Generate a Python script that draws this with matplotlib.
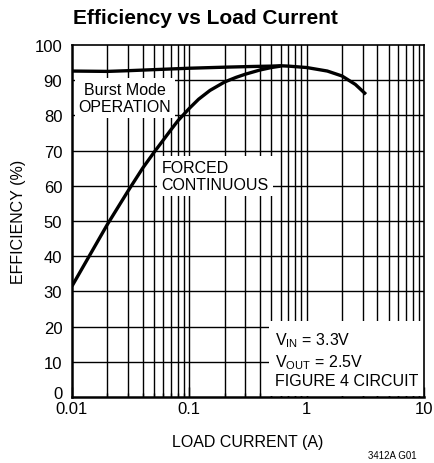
import numpy as np
import matplotlib
matplotlib.use("Agg")
import matplotlib.pyplot as plt
import matplotlib.transforms as mtransforms
from matplotlib.ticker import LogLocator, NullFormatter, FixedLocator

# data
burst_current = [0.01, 0.02, 0.03, 0.05, 0.1, 0.2, 0.35, 0.5, 0.6, 0.7, 1.0, 1.5, 2.0, 2.6, 3.2]
burst_eff = [92.6, 92.5, 92.7, 93.0, 93.4, 93.7, 93.9, 94.0, 94.1, 94.0, 93.6, 92.6, 91.2, 88.8, 86.0]

forced_current = [0.01, 0.02, 0.03, 0.04, 0.05, 0.06, 0.07, 0.08, 0.1, 0.12, 0.15, 0.2,
                  0.25, 0.3, 0.4, 0.5, 0.6]
forced_eff = [31.5, 49.0, 58.5, 65.0, 69.5, 73.0, 76.0, 78.5, 82.0, 84.6, 87.1, 89.5,
              90.8, 91.7, 92.9, 93.6, 94.0]

x_ticks = [0.01, 0.1, 1, 10]
x_labels = ["0.01", "0.1", "1", "10"]
y_ticks = list(range(0, 101, 10))

plt.rcParams['font.family'] = ["Liberation Sans", "DejaVu Sans"]
plt.rcParams['mathtext.fontset'] = 'custom'
plt.rcParams['mathtext.rm'] = 'Liberation Sans'

fig = plt.figure(figsize=(4.34, 4.64), dpi=100)
ax = fig.add_axes([72/434, 1-398/464, 352/434, 352/464])

ax.set_xscale('log')
ax.set_xlim(0.01, 10)
ax.set_ylim(0, 100)

# grid: every minor decade line + every 10 %
minor = [m * 10.0**e for e in range(-2, 1) for m in range(2, 10)]
for xv in minor + [0.1, 1]:
    ax.axvline(xv, color='black', lw=1.0, zorder=1)
for yv in y_ticks[1:-1]:
    ax.axhline(yv, color='black', lw=1.0, zorder=1)

ax.plot(burst_current, burst_eff, color='black', lw=2.4, zorder=4, solid_capstyle='butt')
ax.plot(forced_current, forced_eff, color='black', lw=2.4, zorder=4, solid_capstyle='butt')

# white label boxes hiding the grid
box = dict(facecolor='white', edgecolor='none', pad=3)
ax.text(0.0283, 85.0, "Burst Mode\nOPERATION", fontsize=11.5, ha='center', va='center',
        multialignment='center', linespacing=1.15, bbox=box, zorder=3)
ax.text(0.058, 62.8, "FORCED\nCONTINUOUS", fontsize=11.5, ha='left', va='center',
        linespacing=1.15, bbox=box, zorder=3)
ax.add_patch(plt.Rectangle((0.48, 0.3), 10 - 0.48, 21.3, facecolor='white',
                           edgecolor='none', zorder=3))
ax.text(0.54, 10.7, "V$_{\\mathrm{IN}}$ = 3.3V\nV$_{\\mathrm{OUT}}$ = 2.5V\nFIGURE 4 CIRCUIT",
        fontsize=11.5, ha='left', va='center', linespacing=1.2, zorder=3.5)

ax.xaxis.set_major_locator(FixedLocator(x_ticks))
ax.set_xticklabels(x_labels)
ax.xaxis.set_minor_locator(LogLocator(base=10, subs=np.arange(2, 10)))
ax.xaxis.set_minor_formatter(NullFormatter())
ax.set_yticks(y_ticks)
ax.tick_params(axis='x', which='major', direction='in', length=7, width=1,
               labelsize=12, pad=3)
ax.tick_params(axis='x', which='minor', direction='in', length=3, width=1)
ax.tick_params(axis='y', direction='in', length=0, labelsize=12, pad=7)
for sp in ax.spines.values():
    sp.set_linewidth(1.2)
    sp.set_zorder(5)
ax.spines['left'].set_linewidth(1.8)
ax.spines['bottom'].set_linewidth(1.8)

# lift the "0" label so it clears "0.01"
lbl0 = ax.get_yticklabels()[0]
lbl0.set_transform(lbl0.get_transform() +
                   mtransforms.ScaledTranslation(0, 5/100, fig.dpi_scale_trans))

ax.set_xlabel("LOAD CURRENT (A)", fontsize=11.5, labelpad=13)
ax.set_ylabel("EFFICIENCY (%)", fontsize=11.5, labelpad=6)

fig.text(73/434, 1-18/464, "Efficiency vs Load Current", fontsize=15,
         fontweight='bold', ha='left', va='center')
fig.text(417/434, 1-456/464, "3412A G01", fontsize=7, ha='right', va='center')

fig.savefig("out.png", dpi=100)
